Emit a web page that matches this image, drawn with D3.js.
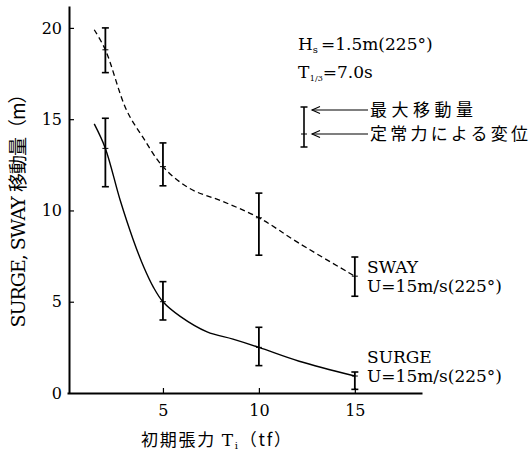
<!doctype html>
<html>
  <head>
    <meta charset="utf-8">
    <title>SURGE, SWAY 移動量</title>
    <script src="https://cdnjs.cloudflare.com/ajax/libs/d3/7.8.5/d3.min.js"></script>
    <style>
      html, body { margin: 0; padding: 0; background: #fff; }
      svg { display: block; }
      .serif { font-family: "DejaVu Serif", "Noto Sans CJK JP", serif; }
      .cjk { font-family: "Noto Sans CJK JP", sans-serif; }
    </style>
  </head>
  <body>
    <div id="chart"></div>
    <script>
      // error bar data
      const tension = [2, 5, 10, 15];
      const swayMid = [18.8, 12.4, 9.6, 6.4];
      const swayLo = [17.55, 11.35, 7.55, 5.3];
      const swayHi = [20.0, 13.7, 10.95, 7.45];
      const surgeMid = [13.4, 5.0, 2.5, 0.93];
      const surgeLo = [11.3, 4.0, 1.5, 0.2];
      const surgeHi = [15.05, 6.1, 3.6, 1.15];

      // hand-drawn fitted curves
      const swayCurveX = [1.42, 2, 3.1, 3.96, 5, 6.4, 8.1, 10, 12.1, 15];
      const swayCurveY = [19.9, 18.8, 15.5, 14.0, 12.4, 11.2, 10.5, 9.6, 8.2, 6.4];
      const surgeCurveX = [1.42, 2, 2.76, 3.45, 4.0, 4.5, 5, 5.9, 7.3, 8.65, 10, 12.1, 15];
      const surgeCurveY = [14.74, 13.4, 10.6, 8.4, 6.9, 5.8, 5.0, 4.2, 3.35, 2.95, 2.5, 1.74, 0.93];

      const xTicks = [5, 10, 15];
      const yTicks = [0, 5, 10, 15, 20];

      const width = 531, height = 450;

      const svg = d3.select('#chart')
        .append('svg')
        .attr('width', width)
        .attr('height', height);

      svg.append('rect').attr('width', width).attr('height', height).attr('fill', '#fff');

      const x = d3.scaleLinear().domain([0, 18.5]).range([67, 422]);
      const y = d3.scaleLinear().domain([0, 21.2]).range([393, 6]);

      // axes (ticks point inward)
      const xAxis = svg.append('g')
        .attr('transform', `translate(0,${y(0)})`)
        .call(d3.axisBottom(x).tickValues(xTicks).tickSize(-5).tickSizeOuter(0).tickPadding(12));

      const yAxis = svg.append('g')
        .attr('transform', `translate(69,0)`)
        .call(d3.axisLeft(y).tickValues(yTicks).tickSize(-5).tickSizeOuter(0).tickPadding(7));

      [xAxis, yAxis].forEach(g => {
        g.select('.domain').attr('stroke', '#000').attr('stroke-width', 2);
        g.selectAll('.tick line').attr('stroke', '#000').attr('stroke-width', 1.2);
        g.selectAll('.tick text')
          .attr('fill', '#000')
          .style('font-family', '"DejaVu Serif", serif')
          .style('font-size', '16px');
      });
      yAxis.selectAll('.tick').filter(d => d === 0).select('line').remove();

      // curves
      const line = d3.line()
        .x(d => x(d[0]))
        .y(d => y(d[1]))
        .curve(d3.curveCatmullRom.alpha(0.5));

      svg.append('path')
        .datum(d3.zip(swayCurveX, swayCurveY))
        .attr('d', line)
        .attr('fill', 'none')
        .attr('stroke', '#000')
        .attr('stroke-width', 1.3)
        .attr('stroke-dasharray', '5.5,3.5');

      svg.append('path')
        .datum(d3.zip(surgeCurveX, surgeCurveY))
        .attr('d', line)
        .attr('fill', 'none')
        .attr('stroke', '#000')
        .attr('stroke-width', 1.4);

      // error bars
      function errorBars(mid, lo, hi) {
        const rows = tension.map((t, i) => ({ t, mid: mid[i], lo: lo[i], hi: hi[i] }));
        const g = svg.append('g').attr('stroke', '#000');
        const bars = g.selectAll('g').data(rows).join('g');
        bars.append('line')
          .attr('x1', d => x(d.t)).attr('x2', d => x(d.t))
          .attr('y1', d => y(d.lo)).attr('y2', d => y(d.hi))
          .attr('stroke-width', 1.8);
        [d => d.lo, d => d.hi].forEach(acc => {
          bars.append('line')
            .attr('x1', d => x(d.t) - 3.5).attr('x2', d => x(d.t) + 3.5)
            .attr('y1', d => y(acc(d))).attr('y2', d => y(acc(d)))
            .attr('stroke-width', 1.6);
        });
        bars.append('line')
          .attr('x1', d => x(d.t) - 3).attr('x2', d => x(d.t) + 3)
          .attr('y1', d => y(d.mid)).attr('y2', d => y(d.mid))
          .attr('stroke-width', 1);
      }
      errorBars(swayMid, swayLo, swayHi);
      errorBars(surgeMid, surgeLo, surgeHi);

      // series labels
      function seriesLabel(name, yTop) {
        const t = svg.append('text').attr('class', 'serif').style('font-size', '17px').attr('fill', '#000');
        t.append('tspan').attr('x', 367).attr('y', yTop).text(name);
        t.append('tspan').attr('x', 367).attr('y', yTop + 19).text('U=15m/s(225°)');
      }
      seriesLabel('SWAY', 273);
      seriesLabel('SURGE', 363);

      // wave conditions
      const hs = svg.append('text').attr('class', 'serif').style('font-size', '17px').attr('x', 298).attr('y', 50);
      hs.append('tspan').text('H');
      hs.append('tspan').style('font-size', '10px').attr('dy', 3).text('s');
      hs.append('tspan').attr('dy', -3).attr('dx', 3).text('=1.5m(225°)');

      const tp = svg.append('text').attr('class', 'serif').style('font-size', '17px').attr('x', 298).attr('y', 78);
      tp.append('tspan').text('T');
      tp.append('tspan').style('font-size', '8px').attr('dy', 3).attr('dx', 0.5).text('1/3');
      tp.append('tspan').attr('dy', -3).text('=7.0s');

      // legend for error bar symbol
      const lg = svg.append('g').attr('stroke', '#000');
      lg.append('line').attr('x1', 304).attr('x2', 304).attr('y1', 107).attr('y2', 147).attr('stroke-width', 1.6);
      [107, 147].forEach(v => lg.append('line').attr('x1', 300.5).attr('x2', 307.5).attr('y1', v).attr('y2', v).attr('stroke-width', 1.5));
      lg.append('line').attr('x1', 301).attr('x2', 307).attr('y1', 134).attr('y2', 134).attr('stroke-width', 1);
      [110, 134].forEach(v => {
        lg.append('line').attr('x1', 312).attr('x2', 368).attr('y1', v).attr('y2', v).attr('stroke-width', 1.1);
        lg.append('path').attr('d', `M320,${v - 3.5}L312,${v}L320,${v + 3.5}`).attr('fill', 'none').attr('stroke-width', 1.1);
      });
      svg.append('text').attr('class', 'cjk').style('font-size', '17px').attr('x', 370).attr('y', 110)
        .attr('dy', '0.36em').attr('textLength', 103).attr('lengthAdjust', 'spacing').text('最大移動量');
      svg.append('text').attr('class', 'cjk').style('font-size', '17px').attr('x', 370).attr('y', 134)
        .attr('dy', '0.36em').attr('textLength', 158).attr('lengthAdjust', 'spacing').text('定常力による変位');

      // axis titles
      const xt = svg.append('text').attr('x', 141).attr('y', 446)
        .attr('textLength', 150).attr('lengthAdjust', 'spacing').style('font-size', '17px');
      xt.append('tspan').attr('class', 'cjk').text('初期張力 ');
      xt.append('tspan').attr('class', 'serif').text('T');
      xt.append('tspan').attr('class', 'serif').style('font-size', '10px').attr('dy', 3).text('i');
      xt.append('tspan').attr('class', 'cjk').attr('dy', -3).text('（tf）');

      const yt = svg.append('text')
        .attr('transform', 'translate(18,206) rotate(-90)')
        .attr('text-anchor', 'middle')
        .attr('dy', '0.36em')
        .attr('textLength', 243).attr('lengthAdjust', 'spacing')
        .style('font-size', '19px');
      yt.append('tspan').attr('class', 'serif').text('SURGE, SWAY ');
      yt.append('tspan').attr('class', 'cjk').text('移動量（m）');
    </script>
  </body>
</html>
